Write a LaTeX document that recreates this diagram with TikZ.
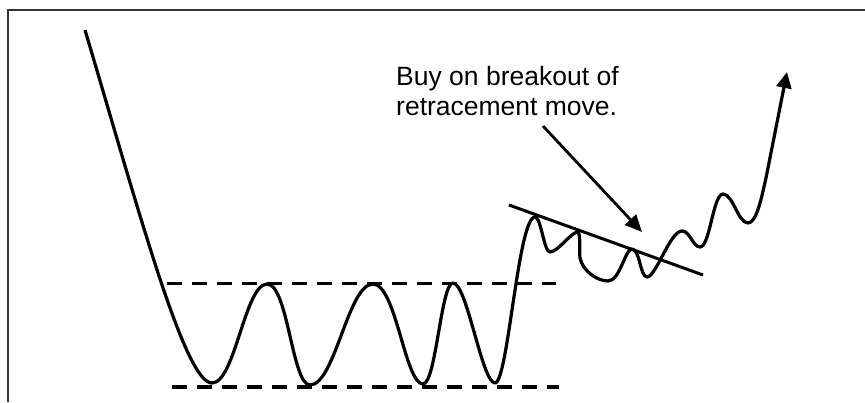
\documentclass[tikz,border=0pt]{standalone}
\usepackage{fontspec}
\setmainfont{Liberation Sans}
\usetikzlibrary{arrows.meta}
\begin{document}
\begin{tikzpicture}[x=1pt,y=-1pt,
  curve/.style={line width=3.2pt, line join=round},
  level/.style={line width=3.2pt, dash pattern=on 15pt off 10pt},
  lbl/.style={inner sep=0pt, anchor=base west, font=\fontsize{26.5}{30}\selectfont}]
\useasboundingbox (0,0) rectangle (865,402);
\fill[white] (0,0) rectangle (865,402);
\draw[black!80, line width=1.5pt] (8,402) -- (8,10) -- (866,10);
% support and resistance levels
\coordinate (rl) at (167,283.5);
\coordinate (rr) at (556,283.5);
\coordinate (sl) at (172,387);
\coordinate (sr) at (559,387);
\draw[level] (rl) -- (rr);
\draw[level] (sl) -- (sr);
% price curve
\draw[curve, -{Triangle[length=16pt,width=15pt]}]
 (85,30) .. controls (140,215) and (185,383) .. (212,383)
 .. controls (235,383) and (245,284) .. (267,284)
 .. controls (288,284) and (292,385) .. (310,385)
 .. controls (335,385) and (348,284) .. (373,284)
 .. controls (396,284) and (405,384) .. (423,384)
 .. controls (436,384) and (441,283) .. (453,283)
 .. controls (467,283) and (482,383) .. (495,383)
 .. controls (508,383) and (518,217) .. (535,217)
 .. controls (541,217) and (544,252) .. (550,252)
 .. controls (558,252) and (571,232) .. (578,232)
 .. controls (581,236) and (579,250) .. (580,258)
 .. controls (583,272) and (598,281) .. (608,281)
 .. controls (620,281) and (625,249) .. (632,249)
 .. controls (640,249) and (640,277) .. (647,277)
 .. controls (656,277) and (670,231) .. (682,231)
 .. controls (690,231) and (693,247) .. (700,247)
 .. controls (710,247) and (713,194) .. (723,194)
 .. controls (733,194) and (738,223) .. (748,223)
 .. controls (757,223) and (762,195) .. (766,178)
 -- (787,72);
% trend line
\coordinate (tl) at (509,205);
\coordinate (tr) at (703,275);
\draw[line width=3pt] (tl) -- (tr);
% label
\node[lbl] (t1) at (396,85) {Buy on breakout of};
\node[lbl] (t2) at (396,115.5) {retracement move.};
\coordinate (cs) at (543,126);
\coordinate (ce) at (642,232);
\draw[line width=2.8pt, -{Triangle[length=17pt,width=15pt]}] (cs) -- (ce);
\end{tikzpicture}
\end{document}
